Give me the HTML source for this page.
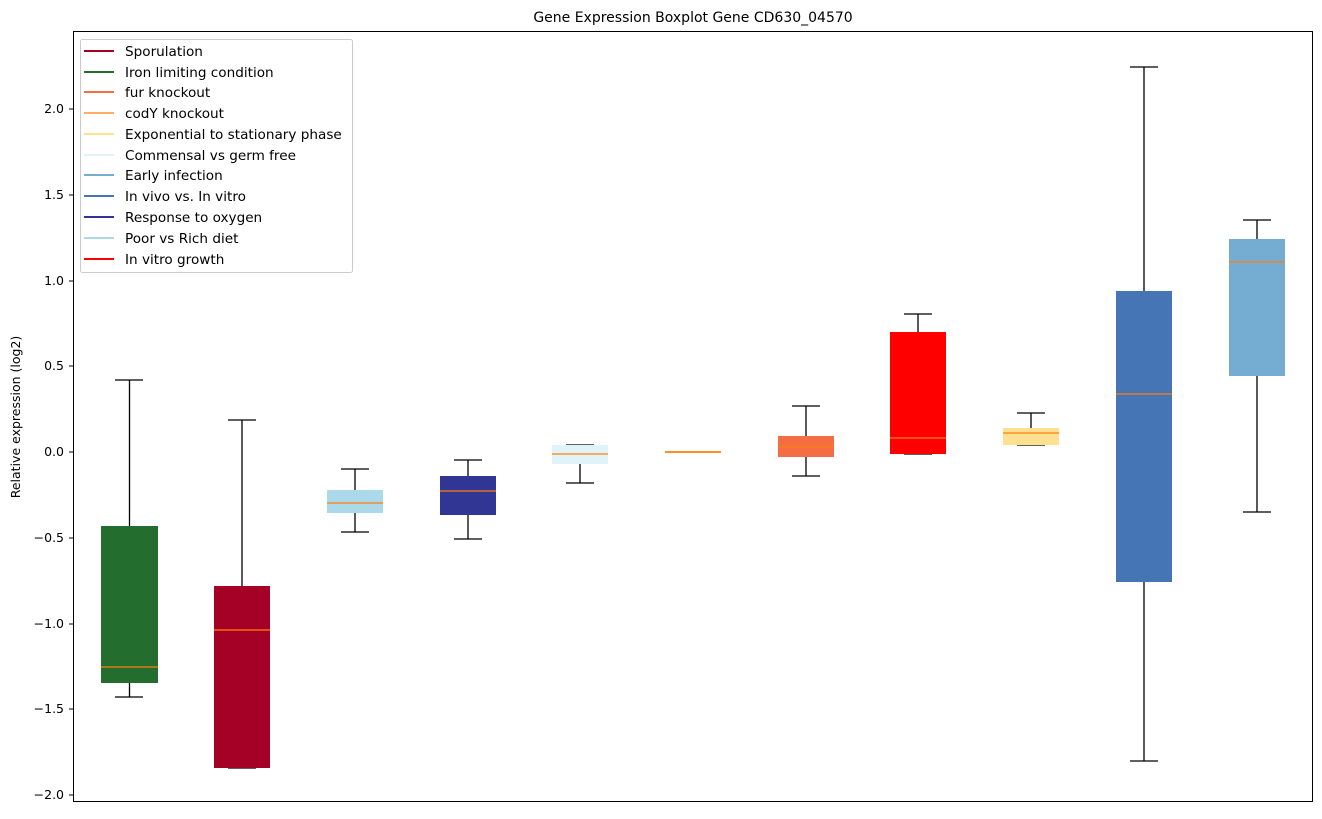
<!DOCTYPE html>
<html><head><meta charset="utf-8"><style>
html,body{margin:0;padding:0;background:#fff;}
text{font-family:"DejaVu Sans","Liberation Sans",sans-serif;}
</style></head><body>
<svg width="1322" height="814" viewBox="0 0 1322 814" xmlns="http://www.w3.org/2000/svg">
<rect width="1322" height="814" fill="#fff"/>
<text x="693" y="22" font-size="14" text-anchor="middle" fill="#000">Gene Expression Boxplot Gene CD630_04570</text>
<g stroke="#000" stroke-width="1.3" fill="none">
<line x1="129.5" y1="380" x2="129.5" y2="526"/><line x1="129.5" y1="683" x2="129.5" y2="697"/><line x1="115" y1="380" x2="143" y2="380"/><line x1="115" y1="697" x2="143" y2="697"/>
<line x1="242" y1="420" x2="242" y2="586"/><line x1="228" y1="420" x2="256" y2="420"/><line x1="228" y1="768" x2="256" y2="768"/>
<line x1="355" y1="469" x2="355" y2="490"/><line x1="355" y1="513" x2="355" y2="532"/><line x1="341" y1="469" x2="369" y2="469"/><line x1="341" y1="532" x2="369" y2="532"/>
<line x1="468" y1="460" x2="468" y2="476"/><line x1="468" y1="515" x2="468" y2="539"/><line x1="454" y1="460" x2="482" y2="460"/><line x1="454" y1="539" x2="482" y2="539"/>
<line x1="580" y1="464" x2="580" y2="483"/><line x1="566" y1="445" x2="594" y2="445"/><line x1="566" y1="483" x2="594" y2="483"/>
<line x1="679" y1="452" x2="707" y2="452"/>
<line x1="806" y1="406" x2="806" y2="436"/><line x1="806" y1="457" x2="806" y2="476"/><line x1="792" y1="406" x2="820" y2="406"/><line x1="792" y1="476" x2="820" y2="476"/>
<line x1="918" y1="314" x2="918" y2="332"/><line x1="904" y1="314" x2="932" y2="314"/><line x1="904" y1="454" x2="932" y2="454"/>
<line x1="1031" y1="413" x2="1031" y2="428"/><line x1="1017" y1="413" x2="1045" y2="413"/><line x1="1017" y1="445" x2="1045" y2="445"/>
<line x1="1144" y1="67" x2="1144" y2="291"/><line x1="1144" y1="582" x2="1144" y2="761"/><line x1="1130" y1="67" x2="1158" y2="67"/><line x1="1130" y1="761" x2="1158" y2="761"/>
<line x1="1257" y1="220" x2="1257" y2="239"/><line x1="1257" y1="376" x2="1257" y2="512"/><line x1="1243" y1="220" x2="1271" y2="220"/><line x1="1243" y1="512" x2="1271" y2="512"/>
</g>
<g>
<rect x="101" y="526" width="57" height="157" fill="#236e2e"/>
<rect x="214" y="586" width="56" height="182" fill="#a50026"/>
<rect x="327" y="490" width="56" height="23" fill="#abd9e9"/>
<rect x="440" y="476" width="56" height="39" fill="#313695"/>
<rect x="552" y="445" width="56" height="19" fill="#e0f3f8"/>
<rect x="665" y="451" width="56" height="2" fill="#fdae61"/>
<rect x="778" y="436" width="56" height="21" fill="#f46d43"/>
<rect x="890" y="332" width="56" height="122" fill="#ff0000"/>
<rect x="1003" y="428" width="56" height="17" fill="#fee090"/>
<rect x="1116" y="291" width="56" height="291" fill="#4575b4"/>
<rect x="1229" y="239" width="56" height="137" fill="#74add1"/>
</g>
<g stroke="#ff7f0e" stroke-width="1.2">
<line x1="101" y1="667" x2="158" y2="667"/>
<line x1="214" y1="630" x2="270" y2="630"/>
<line x1="327" y1="503" x2="383" y2="503"/>
<line x1="440" y1="491" x2="496" y2="491"/>
<line x1="552" y1="454" x2="608" y2="454"/>
<line x1="665" y1="452" x2="721" y2="452"/>
<line x1="778" y1="447" x2="834" y2="447"/>
<line x1="890" y1="438" x2="946" y2="438"/>
<line x1="1003" y1="433" x2="1059" y2="433"/>
<line x1="1116" y1="394" x2="1172" y2="394"/>
<line x1="1229" y1="262" x2="1285" y2="262"/>
</g>
<rect x="73.5" y="31.5" width="1239" height="770" fill="none" stroke="#000" stroke-width="1"/>
<g stroke="#000" stroke-width="1">
<line x1="69" y1="109" x2="73" y2="109"/><line x1="69" y1="195" x2="73" y2="195"/><line x1="69" y1="281" x2="73" y2="281"/><line x1="69" y1="366" x2="73" y2="366"/><line x1="69" y1="452" x2="73" y2="452"/><line x1="69" y1="538" x2="73" y2="538"/><line x1="69" y1="624" x2="73" y2="624"/><line x1="69" y1="709" x2="73" y2="709"/><line x1="69" y1="795" x2="73" y2="795"/>
</g>
<g font-size="12.5" text-anchor="end" fill="#000">
<text x="64" y="113">2.0</text><text x="64" y="199">1.5</text><text x="64" y="285">1.0</text><text x="64" y="370">0.5</text><text x="64" y="456">0.0</text><text x="64" y="542">−0.5</text><text x="64" y="628">−1.0</text><text x="64" y="713">−1.5</text><text x="64" y="799">−2.0</text>
</g>
<text transform="translate(20,417) rotate(-90)" font-size="12.5" text-anchor="middle">Relative expression (log2)</text>
<rect x="80.5" y="39.5" width="272" height="233" rx="2" fill="#fff" fill-opacity="0.8" stroke="#ccc"/>
<g stroke-width="2">
<line x1="84" y1="51" x2="114" y2="51" stroke="#a50026"/>
<line x1="84" y1="72" x2="114" y2="72" stroke="#236e2e"/>
<line x1="84" y1="92" x2="114" y2="92" stroke="#f46d43"/>
<line x1="84" y1="113" x2="114" y2="113" stroke="#fdae61"/>
<line x1="84" y1="134" x2="114" y2="134" stroke="#fee090"/>
<line x1="84" y1="155" x2="114" y2="155" stroke="#e0f3f8"/>
<line x1="84" y1="175" x2="114" y2="175" stroke="#74add1"/>
<line x1="84" y1="196" x2="114" y2="196" stroke="#4575b4"/>
<line x1="84" y1="217" x2="114" y2="217" stroke="#313695"/>
<line x1="84" y1="238" x2="114" y2="238" stroke="#abd9e9"/>
<line x1="84" y1="259" x2="114" y2="259" stroke="#ff0000"/>
</g>
<g font-size="13.6" fill="#000">
<text x="125" y="56">Sporulation</text>
<text x="125" y="77">Iron limiting condition</text>
<text x="125" y="97">fur knockout</text>
<text x="125" y="118">codY knockout</text>
<text x="125" y="139">Exponential to stationary phase</text>
<text x="125" y="160">Commensal vs germ free</text>
<text x="125" y="180">Early infection</text>
<text x="125" y="201">In vivo vs. In vitro</text>
<text x="125" y="222">Response to oxygen</text>
<text x="125" y="243">Poor vs Rich diet</text>
<text x="125" y="264">In vitro growth</text>
</g>
</svg>
</body></html>
